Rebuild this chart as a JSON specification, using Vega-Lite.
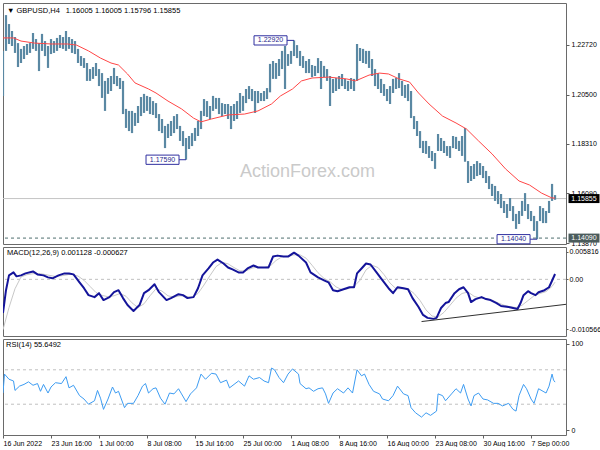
{
 "$schema": "https://vega.github.io/schema/vega-lite/v6.json",
 "background": "white",
 "padding": {"left": 2, "top": 2, "right": 0, "bottom": 0},
 "spacing": 3,
 "bounds": "flush",
 "datasets": {
  "bars": [{"i":0,"h":1.2245,"l":1.2044},{"i":2,"h":1.2405,"l":1.2245},{"i":4,"h":1.2365,"l":1.2276},{"i":6,"h":1.2334,"l":1.2267},{"i":8,"h":1.2307,"l":1.2236},{"i":10,"h":1.228,"l":1.2173},{"i":12,"h":1.2254,"l":1.2191},{"i":14,"h":1.2267,"l":1.2209},{"i":16,"h":1.2276,"l":1.2227},{"i":18,"h":1.228,"l":1.2236},{"i":20,"h":1.2325,"l":1.2254},{"i":22,"h":1.2298,"l":1.2245},{"i":24,"h":1.228,"l":1.2155},{"i":26,"h":1.2321,"l":1.2245},{"i":28,"h":1.2289,"l":1.2222},{"i":30,"h":1.2267,"l":1.2169},{"i":32,"h":1.2298,"l":1.2231},{"i":34,"h":1.2289,"l":1.2236},{"i":36,"h":1.2303,"l":1.2245},{"i":38,"h":1.2316,"l":1.2258},{"i":40,"h":1.2307,"l":1.2254},{"i":42,"h":1.2334,"l":1.2245},{"i":44,"h":1.2307,"l":1.2254},{"i":46,"h":1.2298,"l":1.2236},{"i":48,"h":1.2289,"l":1.2231},{"i":50,"h":1.2254,"l":1.2191},{"i":52,"h":1.2222,"l":1.2178},{"i":54,"h":1.2213,"l":1.2169},{"i":56,"h":1.2191,"l":1.2111},{"i":58,"h":1.2164,"l":1.2111},{"i":60,"h":1.2173,"l":1.212},{"i":62,"h":1.2191,"l":1.2133},{"i":64,"h":1.2164,"l":1.2088},{"i":66,"h":1.2146,"l":1.2035},{"i":68,"h":1.2111,"l":1.1977},{"i":70,"h":1.2124,"l":1.2053},{"i":72,"h":1.2133,"l":1.2066},{"i":74,"h":1.2169,"l":1.2097},{"i":76,"h":1.2133,"l":1.2088},{"i":78,"h":1.2124,"l":1.2075},{"i":80,"h":1.2111,"l":1.1963},{"i":82,"h":1.1986,"l":1.1901},{"i":84,"h":1.1977,"l":1.1887},{"i":86,"h":1.1977,"l":1.1878},{"i":88,"h":1.1968,"l":1.191},{"i":90,"h":1.1999,"l":1.1923},{"i":92,"h":1.2039,"l":1.1954},{"i":94,"h":1.2053,"l":1.1968},{"i":96,"h":1.2044,"l":1.1977},{"i":98,"h":1.2039,"l":1.1963},{"i":100,"h":1.2021,"l":1.1959},{"i":102,"h":1.2012,"l":1.1945},{"i":104,"h":1.1963,"l":1.1887},{"i":106,"h":1.1941,"l":1.1878},{"i":108,"h":1.191,"l":1.1811},{"i":110,"h":1.1919,"l":1.1856},{"i":112,"h":1.1932,"l":1.1865},{"i":114,"h":1.1954,"l":1.1878},{"i":116,"h":1.1963,"l":1.1896},{"i":118,"h":1.191,"l":1.1843},{"i":120,"h":1.1887,"l":1.182},{"i":122,"h":1.1856,"l":1.1759},{"i":124,"h":1.1865,"l":1.1807},{"i":126,"h":1.1878,"l":1.182},{"i":128,"h":1.1901,"l":1.1843},{"i":130,"h":1.1932,"l":1.1865},{"i":132,"h":1.1977,"l":1.1896},{"i":134,"h":1.203,"l":1.1954},{"i":136,"h":1.2021,"l":1.195},{"i":138,"h":1.1999,"l":1.1941},{"i":140,"h":1.2044,"l":1.1977},{"i":142,"h":1.2035,"l":1.1986},{"i":144,"h":1.2035,"l":1.1963},{"i":146,"h":1.2012,"l":1.1954},{"i":148,"h":1.2008,"l":1.1963},{"i":150,"h":1.2008,"l":1.1941},{"i":152,"h":1.1999,"l":1.1896},{"i":154,"h":1.2008,"l":1.1932},{"i":156,"h":1.2021,"l":1.1941},{"i":158,"h":1.2057,"l":1.1968},{"i":160,"h":1.2044,"l":1.1977},{"i":162,"h":1.2075,"l":1.2012},{"i":164,"h":1.2088,"l":1.203},{"i":166,"h":1.2075,"l":1.2021},{"i":168,"h":1.2066,"l":1.1968},{"i":170,"h":1.2066,"l":1.2012},{"i":172,"h":1.2057,"l":1.2021},{"i":174,"h":1.2066,"l":1.2021},{"i":176,"h":1.2079,"l":1.203},{"i":178,"h":1.2187,"l":1.206},{"i":180,"h":1.22,"l":1.212},{"i":182,"h":1.2191,"l":1.212},{"i":184,"h":1.2209,"l":1.2133},{"i":186,"h":1.2245,"l":1.2164},{"i":188,"h":1.2267,"l":1.2075},{"i":190,"h":1.2231,"l":1.2178},{"i":192,"h":1.2245,"l":1.2187},{"i":194,"h":1.2292,"l":1.2222},{"i":196,"h":1.2271,"l":1.2213},{"i":198,"h":1.2245,"l":1.2178},{"i":200,"h":1.2222,"l":1.2169},{"i":202,"h":1.22,"l":1.2146},{"i":204,"h":1.2209,"l":1.2146},{"i":206,"h":1.2182,"l":1.2128},{"i":208,"h":1.2178,"l":1.2133},{"i":210,"h":1.2213,"l":1.2146},{"i":212,"h":1.22,"l":1.2075},{"i":214,"h":1.2178,"l":1.2128},{"i":216,"h":1.2164,"l":1.2111},{"i":218,"h":1.2133,"l":1.1999},{"i":220,"h":1.212,"l":1.2057},{"i":222,"h":1.2124,"l":1.2066},{"i":224,"h":1.2133,"l":1.2075},{"i":226,"h":1.2142,"l":1.2088},{"i":228,"h":1.212,"l":1.2075},{"i":230,"h":1.2111,"l":1.2066},{"i":232,"h":1.2124,"l":1.2075},{"i":234,"h":1.212,"l":1.2066},{"i":236,"h":1.2276,"l":1.2111},{"i":238,"h":1.2258,"l":1.22},{"i":240,"h":1.2254,"l":1.2191},{"i":242,"h":1.2245,"l":1.2187},{"i":244,"h":1.2245,"l":1.2169},{"i":246,"h":1.2209,"l":1.2133},{"i":248,"h":1.2164,"l":1.2088},{"i":250,"h":1.2146,"l":1.2075},{"i":252,"h":1.212,"l":1.2057},{"i":254,"h":1.2097,"l":1.2044},{"i":256,"h":1.2075,"l":1.2021},{"i":258,"h":1.2088,"l":1.2008},{"i":260,"h":1.212,"l":1.2057},{"i":262,"h":1.2124,"l":1.2075},{"i":264,"h":1.2146,"l":1.2079},{"i":266,"h":1.2111,"l":1.2044},{"i":268,"h":1.2093,"l":1.2035},{"i":270,"h":1.2097,"l":1.2021},{"i":272,"h":1.2066,"l":1.1945},{"i":274,"h":1.1954,"l":1.1896},{"i":276,"h":1.1932,"l":1.1865},{"i":278,"h":1.1887,"l":1.1811},{"i":280,"h":1.1843,"l":1.1789},{"i":282,"h":1.1843,"l":1.1785},{"i":284,"h":1.182,"l":1.1767},{"i":286,"h":1.1798,"l":1.1753},{"i":288,"h":1.1789,"l":1.1718},{"i":290,"h":1.1874,"l":1.1798},{"i":292,"h":1.1856,"l":1.1798},{"i":294,"h":1.1843,"l":1.1789},{"i":296,"h":1.182,"l":1.1776},{"i":298,"h":1.182,"l":1.1767},{"i":300,"h":1.1865,"l":1.1811},{"i":302,"h":1.1861,"l":1.1807},{"i":304,"h":1.1843,"l":1.1798},{"i":306,"h":1.1865,"l":1.1776},{"i":308,"h":1.1901,"l":1.175},{"i":310,"h":1.1753,"l":1.1655},{"i":312,"h":1.1731,"l":1.1664},{"i":314,"h":1.174,"l":1.1673},{"i":316,"h":1.1753,"l":1.1686},{"i":318,"h":1.1744,"l":1.1691},{"i":320,"h":1.1731,"l":1.1677},{"i":322,"h":1.1709,"l":1.1655},{"i":324,"h":1.1686,"l":1.1628},{"i":326,"h":1.1651,"l":1.1597},{"i":328,"h":1.1642,"l":1.1575},{"i":330,"h":1.1619,"l":1.1561},{"i":332,"h":1.1606,"l":1.1543},{"i":334,"h":1.1575,"l":1.1521},{"i":336,"h":1.1561,"l":1.1499},{"i":338,"h":1.1588,"l":1.153},{"i":340,"h":1.1552,"l":1.1485},{"i":342,"h":1.1517,"l":1.145},{"i":344,"h":1.153,"l":1.1472},{"i":346,"h":1.1575,"l":1.1508},{"i":348,"h":1.161,"l":1.153},{"i":350,"h":1.1561,"l":1.1494},{"i":352,"h":1.153,"l":1.1485},{"i":354,"h":1.1508,"l":1.1441},{"i":356,"h":1.1485,"l":1.1404},{"i":358,"h":1.1552,"l":1.1485},{"i":360,"h":1.1543,"l":1.1476},{"i":362,"h":1.153,"l":1.1476},{"i":364,"h":1.1575,"l":1.1521},{"i":366,"h":1.1651,"l":1.1575},{"i":368,"h":1.1601,"l":1.158}],
  "ma": [{"i":0,"v":1.2303},{"i":7,"v":1.2303},{"i":12,"v":1.2289},{"i":21,"v":1.228},{"i":32,"v":1.2276},{"i":43,"v":1.2276},{"i":49,"v":1.2271},{"i":57,"v":1.2245},{"i":65,"v":1.2213},{"i":72,"v":1.2191},{"i":77,"v":1.2182},{"i":83,"v":1.2142},{"i":88,"v":1.2102},{"i":97,"v":1.2075},{"i":102,"v":1.2057},{"i":110,"v":1.2021},{"i":119,"v":1.1986},{"i":127,"v":1.1945},{"i":132,"v":1.1928},{"i":139,"v":1.1941},{"i":150,"v":1.1959},{"i":161,"v":1.1963},{"i":170,"v":1.1977},{"i":179,"v":1.2008},{"i":185,"v":1.2044},{"i":193,"v":1.2075},{"i":199,"v":1.2111},{"i":206,"v":1.2124},{"i":217,"v":1.2128},{"i":229,"v":1.212},{"i":235,"v":1.2111},{"i":244,"v":1.2137},{"i":251,"v":1.2146},{"i":257,"v":1.2142},{"i":264,"v":1.212},{"i":271,"v":1.2106},{"i":277,"v":1.2057},{"i":284,"v":1.2008},{"i":293,"v":1.1954},{"i":302,"v":1.1923},{"i":309,"v":1.1896},{"i":317,"v":1.1843},{"i":326,"v":1.1785},{"i":335,"v":1.1718},{"i":344,"v":1.1664},{"i":351,"v":1.1646},{"i":359,"v":1.161},{"i":366,"v":1.1588},{"i":368,"v":1.1588}],
  "macd": [{"i":0,"m":-0.00714},{"i":2,"m":-0.00231},{"i":4,"m":0.00084},{"i":7,"m":0.00147},{"i":9,"m":0.00063},{"i":12,"m":0.00084},{"i":15,"m":0.00126},{"i":20,"m":0.00168},{"i":23,"m":0.00105},{"i":27,"m":0.00084},{"i":30,"m":0.00042},{"i":33,"m":0.00021},{"i":37,"m":0.00084},{"i":41,"m":0.00126},{"i":44,"m":0.00126},{"i":47,"m":0.00105},{"i":51,"m":-0.00063},{"i":54,"m":-0.00189},{"i":57,"m":-0.00336},{"i":61,"m":-0.00378},{"i":64,"m":-0.00294},{"i":67,"m":-0.00441},{"i":71,"m":-0.00378},{"i":74,"m":-0.00273},{"i":77,"m":-0.00231},{"i":80,"m":-0.00399},{"i":83,"m":-0.00546},{"i":87,"m":-0.00672},{"i":91,"m":-0.00546},{"i":94,"m":-0.00294},{"i":97,"m":-0.00231},{"i":101,"m":-0.00105},{"i":104,"m":-0.00273},{"i":109,"m":-0.00441},{"i":112,"m":-0.00399},{"i":117,"m":-0.00315},{"i":120,"m":-0.00336},{"i":123,"m":-0.00399},{"i":127,"m":-0.00378},{"i":130,"m":-0.00189},{"i":133,"m":0.00084},{"i":137,"m":0.00231},{"i":140,"m":0.00357},{"i":143,"m":0.0042},{"i":147,"m":0.00336},{"i":150,"m":0.00252},{"i":153,"m":0.0021},{"i":157,"m":0.00147},{"i":160,"m":0.00147},{"i":163,"m":0.00231},{"i":167,"m":0.00294},{"i":170,"m":0.00252},{"i":173,"m":0.00252},{"i":177,"m":0.00252},{"i":180,"m":0.00483},{"i":183,"m":0.00504},{"i":187,"m":0.00483},{"i":190,"m":0.00483},{"i":194,"m":0.00567},{"i":197,"m":0.00504},{"i":202,"m":0.00357},{"i":205,"m":0.00147},{"i":210,"m":0.00042},{"i":214,"m":-0.00021},{"i":217,"m":-0.00063},{"i":220,"m":-0.00231},{"i":223,"m":-0.00252},{"i":227,"m":-0.0021},{"i":231,"m":-0.00168},{"i":234,"m":-0.00168},{"i":236,"m":0.00126},{"i":239,"m":0.00231},{"i":242,"m":0.00336},{"i":245,"m":0.00315},{"i":249,"m":0.00147},{"i":252,"m":0.00021},{"i":257,"m":-0.00189},{"i":260,"m":-0.00294},{"i":263,"m":-0.00168},{"i":267,"m":-0.00189},{"i":270,"m":-0.0021},{"i":273,"m":-0.00399},{"i":277,"m":-0.00588},{"i":280,"m":-0.00756},{"i":283,"m":-0.00819},{"i":287,"m":-0.0084},{"i":289,"m":-0.00819},{"i":292,"m":-0.00609},{"i":295,"m":-0.00504},{"i":297,"m":-0.00483},{"i":301,"m":-0.00294},{"i":304,"m":-0.0021},{"i":307,"m":-0.00168},{"i":310,"m":-0.00294},{"i":312,"m":-0.00483},{"i":315,"m":-0.0042},{"i":319,"m":-0.00378},{"i":322,"m":-0.0042},{"i":325,"m":-0.00441},{"i":329,"m":-0.00504},{"i":332,"m":-0.00567},{"i":337,"m":-0.00588},{"i":340,"m":-0.00609},{"i":343,"m":-0.0063},{"i":345,"m":-0.00504},{"i":347,"m":-0.00336},{"i":350,"m":-0.00252},{"i":352,"m":-0.00294},{"i":355,"m":-0.00336},{"i":357,"m":-0.00273},{"i":361,"m":-0.00231},{"i":364,"m":-0.00168},{"i":366,"m":-0.0003},{"i":368,"m":0.00113}],
  "sig": [{"i":0,"s":-0.0107},{"i":4,"s":-0.006},{"i":8,"s":-0.002},{"i":12,"s":0.0005},{"i":16,"s":0.001},{"i":20,"s":0.0012},{"i":25,"s":0.0012},{"i":30,"s":0.0009},{"i":35,"s":0.0006},{"i":40,"s":0.0008},{"i":45,"s":0.0011},{"i":50,"s":0.0007},{"i":54,"s":-0.0002},{"i":58,"s":-0.0015},{"i":62,"s":-0.0028},{"i":66,"s":-0.0034},{"i":70,"s":-0.0037},{"i":74,"s":-0.0035},{"i":78,"s":-0.003},{"i":82,"s":-0.0036},{"i":86,"s":-0.005},{"i":90,"s":-0.006},{"i":94,"s":-0.0052},{"i":98,"s":-0.0035},{"i":102,"s":-0.002},{"i":106,"s":-0.0025},{"i":110,"s":-0.0035},{"i":114,"s":-0.0038},{"i":118,"s":-0.0035},{"i":122,"s":-0.0036},{"i":126,"s":-0.0038},{"i":130,"s":-0.003},{"i":134,"s":-0.0012},{"i":138,"s":0.0008},{"i":142,"s":0.0027},{"i":146,"s":0.0036},{"i":150,"s":0.0033},{"i":154,"s":0.0025},{"i":158,"s":0.0018},{"i":162,"s":0.0018},{"i":166,"s":0.0024},{"i":170,"s":0.0026},{"i":174,"s":0.0025},{"i":178,"s":0.0028},{"i":182,"s":0.004},{"i":186,"s":0.0048},{"i":190,"s":0.0049},{"i":194,"s":0.0052},{"i":198,"s":0.0052},{"i":202,"s":0.0045},{"i":206,"s":0.003},{"i":210,"s":0.0014},{"i":214,"s":0.0002},{"i":218,"s":-0.0005},{"i":222,"s":-0.0016},{"i":226,"s":-0.0022},{"i":230,"s":-0.002},{"i":234,"s":-0.0015},{"i":238,"s":-0.0002},{"i":242,"s":0.002},{"i":246,"s":0.003},{"i":250,"s":0.0025},{"i":254,"s":0.001},{"i":258,"s":-0.0008},{"i":262,"s":-0.002},{"i":266,"s":-0.002},{"i":270,"s":-0.002},{"i":274,"s":-0.003},{"i":278,"s":-0.0045},{"i":282,"s":-0.0065},{"i":286,"s":-0.0078},{"i":290,"s":-0.008},{"i":294,"s":-0.007},{"i":298,"s":-0.0055},{"i":302,"s":-0.004},{"i":306,"s":-0.003},{"i":310,"s":-0.0027},{"i":314,"s":-0.0036},{"i":318,"s":-0.004},{"i":322,"s":-0.0041},{"i":326,"s":-0.0044},{"i":330,"s":-0.005},{"i":334,"s":-0.0055},{"i":338,"s":-0.0058},{"i":342,"s":-0.006},{"i":346,"s":-0.0055},{"i":350,"s":-0.0045},{"i":354,"s":-0.0035},{"i":358,"s":-0.003},{"i":362,"s":-0.0026},{"i":366,"s":-0.0015},{"i":368,"s":-0.0006}],
  "rsi": [{"i":0,"r":43},{"i":1,"r":65},{"i":4,"r":59},{"i":7,"r":57},{"i":8,"r":46},{"i":11,"r":51},{"i":14,"r":53},{"i":17,"r":56},{"i":20,"r":52},{"i":23,"r":54},{"i":25,"r":45},{"i":27,"r":53},{"i":30,"r":43},{"i":32,"r":50},{"i":35,"r":55},{"i":39,"r":54},{"i":42,"r":62},{"i":44,"r":49},{"i":47,"r":52},{"i":51,"r":40},{"i":54,"r":36},{"i":57,"r":30},{"i":61,"r":34},{"i":63,"r":46},{"i":65,"r":37},{"i":67,"r":24},{"i":70,"r":36},{"i":73,"r":50},{"i":75,"r":43},{"i":77,"r":45},{"i":81,"r":26},{"i":83,"r":31},{"i":87,"r":31},{"i":90,"r":40},{"i":93,"r":51},{"i":95,"r":54},{"i":97,"r":43},{"i":100,"r":48},{"i":102,"r":49},{"i":105,"r":37},{"i":108,"r":30},{"i":111,"r":43},{"i":114,"r":42},{"i":117,"r":48},{"i":119,"r":42},{"i":122,"r":33},{"i":125,"r":42},{"i":129,"r":49},{"i":132,"r":65},{"i":135,"r":59},{"i":139,"r":66},{"i":142,"r":65},{"i":145,"r":55},{"i":149,"r":58},{"i":151,"r":49},{"i":154,"r":53},{"i":157,"r":57},{"i":161,"r":51},{"i":164,"r":63},{"i":167,"r":59},{"i":171,"r":61},{"i":174,"r":57},{"i":177,"r":55},{"i":179,"r":72},{"i":181,"r":70},{"i":184,"r":61},{"i":187,"r":55},{"i":190,"r":65},{"i":193,"r":71},{"i":197,"r":65},{"i":198,"r":54},{"i":202,"r":48},{"i":204,"r":49},{"i":207,"r":45},{"i":210,"r":48},{"i":213,"r":49},{"i":215,"r":42},{"i":217,"r":31},{"i":220,"r":43},{"i":223,"r":48},{"i":227,"r":43},{"i":230,"r":49},{"i":233,"r":43},{"i":236,"r":70},{"i":239,"r":63},{"i":241,"r":65},{"i":244,"r":53},{"i":247,"r":45},{"i":251,"r":42},{"i":253,"r":36},{"i":257,"r":34},{"i":260,"r":40},{"i":263,"r":51},{"i":267,"r":42},{"i":270,"r":40},{"i":272,"r":26},{"i":275,"r":20},{"i":279,"r":15},{"i":282,"r":20},{"i":285,"r":17},{"i":289,"r":22},{"i":290,"r":42},{"i":293,"r":40},{"i":295,"r":34},{"i":299,"r":42},{"i":302,"r":48},{"i":305,"r":43},{"i":307,"r":53},{"i":310,"r":36},{"i":312,"r":28},{"i":314,"r":40},{"i":317,"r":43},{"i":320,"r":36},{"i":323,"r":35},{"i":327,"r":31},{"i":330,"r":31},{"i":333,"r":28},{"i":337,"r":31},{"i":340,"r":24},{"i":342,"r":22},{"i":344,"r":40},{"i":347,"r":53},{"i":349,"r":48},{"i":352,"r":36},{"i":354,"r":31},{"i":357,"r":48},{"i":360,"r":45},{"i":362,"r":43},{"i":364,"r":51},{"i":366,"r":65},{"i":367,"r":58},{"i":368,"r":55.65}],
  "ann": [{"i":194,"p":1.2292,"t":"1.22920"},{"i":122,"p":1.1759,"t":"1.17590"},{"i":356,"p":1.1404,"t":"1.14040"}],
  "marks": [{"p":1.15855,"t":"1.15855","c":"bid"},{"p":1.1409,"t":"1.14090","c":"level"}],
  "trend": [{"i":279,"v":-0.00897},{"i":375.3,"v":-0.00531}]
 },
 "vconcat": [
  {
   "width": 563,
   "height": 241,
   "title": {"text": "▼ GBPUSD,H4\u2002 1.16005 1.16005 1.15796 1.15855", "anchor": "start", "frame": "group", "offset": -11, "dx": 4, "fontSize": 7.5, "fontWeight": "normal", "font": "Liberation Sans", "color": "#000000"},
   "layer": [
    {
     "data": {"values": [{}]},
     "mark": {"type": "text", "text": "ActionForex.com", "fontSize": 18, "font": "Liberation Sans", "color": "#cacaca", "baseline": "middle", "align": "center"},
     "encoding": {
      "x": {"datum": 203, "type": "quantitative", "scale": {"domain": [0, 375.3], "nice": false, "zero": false}, "axis": null},
      "y": {"datum": 1.1704, "type": "quantitative", "scale": {"domain": [1.13826, 1.2459], "nice": false, "zero": false}, "axis": {"title": null}}
     }
    },
    {
     "data": {"values": [{}]},
     "mark": {"type": "rule", "color": "#c4c4c4", "strokeWidth": 1, "clip": true},
     "encoding": {"y": {"datum": 1.15855, "type": "quantitative", "scale": {"domain": [1.13826, 1.2459], "nice": false, "zero": false}, "axis": {"title": null}}}
    },
    {
     "data": {"values": [{}]},
     "mark": {"type": "rule", "color": "#4f6f6f", "strokeWidth": 1, "strokeDash": [3, 3], "clip": true},
     "encoding": {"y": {"datum": 1.1409, "type": "quantitative", "scale": {"domain": [1.13826, 1.2459], "nice": false, "zero": false}, "axis": {"title": null}}}
    },
    {
     "data": {"name": "bars"},
     "mark": {"type": "rule", "color": "#5a88a3", "strokeWidth": 2.2, "clip": true},
     "encoding": {
      "x": {"field": "i", "type": "quantitative", "scale": {"domain": [0, 375.3], "nice": false, "zero": false}, "axis": null},
      "y": {"field": "l", "type": "quantitative", "scale": {"domain": [1.13826, 1.2459], "nice": false, "zero": false},
            "axis": {"orient": "right", "title": null, "values": [1.1387, 1.1498, 1.1609, 1.172, 1.1831, 1.1939, 1.205, 1.2161, 1.2272, 1.2383], "format": ".5f", "tickSize": 3, "labelPadding": 2, "grid": false, "domain": false, "labelOverlap": false, "labelFlush": false}},
      "y2": {"field": "h"}
     }
    },
    {
     "data": {"name": "ma"},
     "mark": {"type": "line", "color": "#ff4646", "strokeWidth": 1, "strokeJoin": "round", "clip": true},
     "encoding": {
      "x": {"field": "i", "type": "quantitative", "scale": {"domain": [0, 375.3], "nice": false, "zero": false}, "axis": null},
      "y": {"field": "v", "type": "quantitative", "scale": {"domain": [1.13826, 1.2459], "nice": false, "zero": false}, "axis": {"title": null}}
     }
    },
    {
     "data": {"name": "ann"},
     "mark": {"type": "rule", "color": "#3030a0", "strokeWidth": 1, "xOffset": -7},
     "encoding": {
      "x": {"field": "i", "type": "quantitative", "scale": {"domain": [0, 375.3], "nice": false, "zero": false}, "axis": null},
      "x2": {"field": "i"},
      "y": {"field": "p", "type": "quantitative", "scale": {"domain": [1.13826, 1.2459], "nice": false, "zero": false}, "axis": {"title": null}}
     }
    },
    {
     "data": {"name": "ann"},
     "mark": {"type": "point", "shape": "M-1,-0.28H1V0.28H-1Z", "size": 1089, "filled": true, "fill": "#ffffff", "stroke": "#3030a0", "strokeWidth": 1, "opacity": 1, "xOffset": -23.5},
     "encoding": {
      "x": {"field": "i", "type": "quantitative", "scale": {"domain": [0, 375.3], "nice": false, "zero": false}, "axis": null},
      "y": {"field": "p", "type": "quantitative", "scale": {"domain": [1.13826, 1.2459], "nice": false, "zero": false}, "axis": {"title": null}}
     }
    },
    {
     "data": {"name": "ann"},
     "mark": {"type": "text", "fontSize": 7, "font": "Liberation Sans", "color": "#26268c", "align": "center", "baseline": "middle", "xOffset": -23.5},
     "encoding": {
      "x": {"field": "i", "type": "quantitative", "scale": {"domain": [0, 375.3], "nice": false, "zero": false}, "axis": null},
      "y": {"field": "p", "type": "quantitative", "scale": {"domain": [1.13826, 1.2459], "nice": false, "zero": false}, "axis": {"title": null}},
      "text": {"field": "t"}
     }
    },
    {
     "data": {"name": "marks"},
     "mark": {"type": "point", "shape": "M-1,-0.29H1V0.29H-1Z", "size": 961, "filled": true, "opacity": 1, "xOffset": 18},
     "encoding": {
      "x": {"value": "width"},
      "y": {"field": "p", "type": "quantitative", "scale": {"domain": [1.13826, 1.2459], "nice": false, "zero": false}, "axis": {"title": null}},
      "color": {"field": "c", "type": "nominal", "scale": {"domain": ["bid", "level"], "range": ["#000000", "#4b5c5c"]}, "legend": null}
     }
    },
    {
     "data": {"name": "marks"},
     "mark": {"type": "text", "fontSize": 7, "font": "Liberation Sans", "color": "#ffffff", "align": "center", "baseline": "middle", "xOffset": 18},
     "encoding": {
      "x": {"value": "width"},
      "y": {"field": "p", "type": "quantitative", "scale": {"domain": [1.13826, 1.2459], "nice": false, "zero": false}, "axis": {"title": null}},
      "text": {"field": "t"}
     }
    }
   ]
  },
  {
   "width": 563,
   "height": 89,
   "title": {"text": "MACD(12,26,9) 0.001128 -0.000627", "anchor": "start", "frame": "group", "offset": -9, "dx": 4, "fontSize": 7.5, "fontWeight": "normal", "font": "Liberation Sans", "color": "#000000"},
   "layer": [
    {
     "data": {"values": [{}]},
     "mark": {"type": "rule", "color": "#c0c0c0", "strokeWidth": 1, "strokeDash": [3, 3], "clip": true},
     "encoding": {"y": {"datum": 0, "type": "quantitative", "scale": {"domain": [-0.01204, 0.00687], "nice": false, "zero": false}, "axis": {"title": null}}}
    },
    {
     "data": {"name": "sig"},
     "mark": {"type": "line", "color": "#c8c8c8", "strokeWidth": 1, "strokeJoin": "round", "clip": true},
     "encoding": {
      "x": {"field": "i", "type": "quantitative", "scale": {"domain": [0, 375.3], "nice": false, "zero": false}, "axis": null},
      "y": {"field": "s", "type": "quantitative", "scale": {"domain": [-0.01204, 0.00687], "nice": false, "zero": false}, "axis": {"title": null}}
     }
    },
    {
     "data": {"name": "macd"},
     "mark": {"type": "line", "color": "#14149a", "strokeWidth": 2, "strokeJoin": "round", "clip": true},
     "encoding": {
      "x": {"field": "i", "type": "quantitative", "scale": {"domain": [0, 375.3], "nice": false, "zero": false}, "axis": null},
      "y": {"field": "m", "type": "quantitative", "scale": {"domain": [-0.01204, 0.00687], "nice": false, "zero": false},
            "axis": {"orient": "right", "title": null, "values": [-0.010566, 0, 0.005816], "labelExpr": "datum.value < -0.01 ? '-0.010566' : (datum.value > 0.001 ? '0.005816' : '0.00')", "tickSize": 2, "labelPadding": 1, "grid": false, "domain": false, "labelOverlap": false, "labelFlush": false}}
     }
    },
    {
     "data": {"name": "trend"},
     "mark": {"type": "line", "color": "#303030", "strokeWidth": 1, "clip": true},
     "encoding": {
      "x": {"field": "i", "type": "quantitative", "scale": {"domain": [0, 375.3], "nice": false, "zero": false}, "axis": null},
      "y": {"field": "v", "type": "quantitative", "scale": {"domain": [-0.01204, 0.00687], "nice": false, "zero": false}, "axis": {"title": null}}
     }
    }
   ]
  },
  {
   "width": 563,
   "height": 96,
   "title": {"text": "RSI(14) 55.6492", "anchor": "start", "frame": "group", "offset": -9, "dx": 3, "fontSize": 7.5, "fontWeight": "normal", "font": "Liberation Sans", "color": "#000000"},
   "layer": [
    {
     "data": {"values": [{"lv": 70}, {"lv": 30}]},
     "mark": {"type": "rule", "color": "#c0c0c0", "strokeWidth": 1, "strokeDash": [3, 3], "clip": true},
     "encoding": {"y": {"field": "lv", "type": "quantitative", "scale": {"domain": [-5.8, 105.8], "nice": false, "zero": false}, "axis": {"title": null}}}
    },
    {
     "data": {"name": "rsi"},
     "mark": {"type": "line", "color": "#3d9cf2", "strokeWidth": 1, "strokeJoin": "round", "clip": true},
     "encoding": {
      "x": {"field": "i", "type": "quantitative", "scale": {"domain": [0, 375.3], "nice": false, "zero": false},
            "axis": {"orient": "bottom", "title": null, "values": [0, 32, 64, 96, 128, 160, 192, 224, 256, 288, 320, 352], "labelExpr": "['16 Jun 2022','23 Jun 16:00','1 Jul 00:00','8 Jul 08:00','15 Jul 16:00','25 Jul 00:00','1 Aug 08:00','8 Aug 16:00','16 Aug 00:00','23 Aug 08:00','30 Aug 16:00','7 Sep 00:00'][round(datum.value/32)]", "labelAlign": "left", "tickSize": 3, "labelPadding": 1, "grid": false, "domain": false, "labelOverlap": false, "labelFlush": false}},
      "y": {"field": "r", "type": "quantitative", "scale": {"domain": [-5.8, 105.8], "nice": false, "zero": false},
            "axis": {"orient": "right", "title": null, "values": [0, 30, 70, 100], "tickSize": 3, "labelPadding": 2, "grid": false, "domain": false, "labelOverlap": false, "labelFlush": false}}
     }
    }
   ]
  }
 ],
 "config": {
  "view": {"stroke": "#6a6a6a", "strokeWidth": 1},
  "axis": {"labelFont": "Liberation Sans", "labelFontSize": 7, "labelColor": "#000000", "tickColor": "#606060"}
 }
}
